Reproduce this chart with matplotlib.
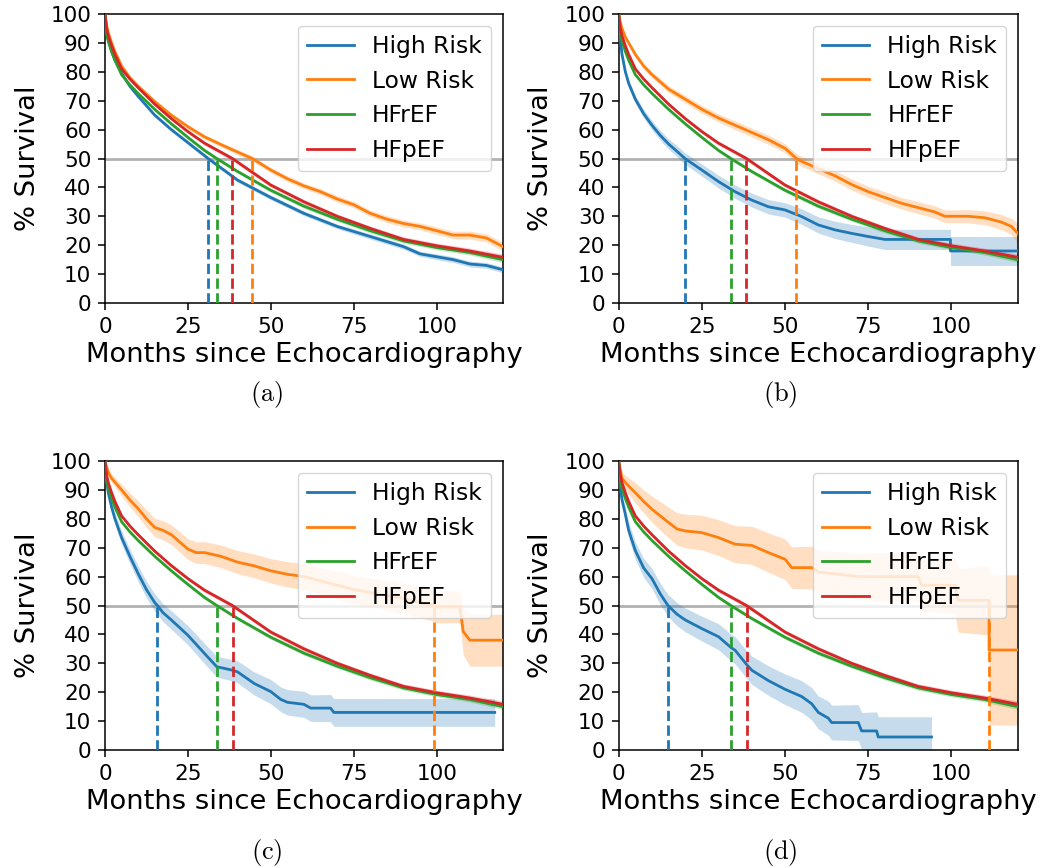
import numpy as np
import matplotlib
matplotlib.use('Agg')
import matplotlib.pyplot as plt

plt.rcParams['font.family'] = 'DejaVu Sans'
plt.rcParams['mathtext.fontset'] = 'cm'

labels = ['High Risk', 'Low Risk', 'HFrEF', 'HFpEF']
colors = ['#1f77b4', '#ff7f0e', '#2ca02c', '#d62728']
captions = ['(a)', '(b)', '(c)', '(d)']
xticks = [0, 25, 50, 75, 100]
yticks = list(range(0, 101, 10))

# ---- reference groups (same in every panel) ----
hfref_t = [0, 0.5, 1, 2, 3, 5, 7.5, 10, 15, 20, 25, 30, 33.7, 40, 50, 60, 70, 80, 90, 100, 110, 120]
hfref_s = [100, 93, 90.5, 87, 84, 79, 75.5, 72.5, 67, 62, 57.3, 52.8, 50, 45.5, 39, 33.5, 29, 25, 21.5, 19.2, 17.5, 15]
hfref_ci = [0, 0.3, 0.3, 0.4, 0.4, 0.5, 0.5, 0.5, 0.5, 0.6, 0.6, 0.6, 0.6, 0.6, 0.7, 0.7, 0.7, 0.8, 0.8, 0.8, 0.9, 1.0]

hfpef_t = [0, 0.5, 1, 2, 3, 5, 7.5, 10, 15, 20, 25, 30, 38.4, 50, 60, 70, 80, 90, 100, 110, 120]
hfpef_s = [100, 95, 92.5, 89, 86, 81, 77.5, 74.5, 68.8, 63.8, 59.3, 55.3, 50, 40.8, 35, 30, 25.8, 22, 19.8, 18, 15.8]
hfpef_ci = [0, 0.3, 0.3, 0.4, 0.4, 0.5, 0.5, 0.5, 0.6, 0.6, 0.6, 0.7, 0.7, 0.7, 0.8, 0.8, 0.8, 0.9, 0.9, 1.0, 1.1]

# ---- panel (a) ----
high_a_t = [0, 0.5, 1, 2, 3, 5, 7.5, 10, 15, 20, 25, 31.1, 40, 50, 60, 70, 80, 90, 95, 100, 105, 110, 115, 120]
high_a_s = [100, 94, 91, 87, 84, 79.5, 75, 71.5, 65, 60, 55.5, 50, 42.5, 36.5, 31, 26.5, 23, 19.5, 17, 16, 15, 13.5, 13, 11.5]
high_a_ci = [0, 0.3, 0.3, 0.4, 0.4, 0.5, 0.5, 0.5, 0.6, 0.6, 0.7, 0.7, 0.7, 0.8, 0.8, 0.8, 0.9, 0.9, 0.9, 1.0, 1.0, 1.0, 1.0, 1.0]
low_a_t = [0, 0.5, 1, 2, 3, 5, 7.5, 10, 15, 20, 25, 30, 35, 40, 44.4, 50, 55, 60, 65, 70, 75, 80, 85, 90, 95, 100, 105, 110, 115, 120]
low_a_s = [100, 96, 93.5, 90, 87, 82, 78, 75, 69.7, 65, 61, 57.5, 54.8, 52.2, 50, 46, 43, 40.5, 38.5, 36, 34, 31, 29, 27.5, 26.5, 25, 23.5, 23.5, 22.5, 19.5]
low_a_ci = [0, 0.3, 0.4, 0.4, 0.5, 0.5, 0.6, 0.6, 0.7, 0.7, 0.8, 0.8, 0.8, 0.9, 0.9, 0.9, 1.0, 1.0, 1.0, 1.1, 1.1, 1.1, 1.2, 1.2, 1.2, 1.3, 1.3, 1.4, 1.4, 1.5]

# ---- panel (b) ----
high_b_t = [0, 0.5, 1, 2, 3, 5, 7.5, 10, 12.5, 15, 17.5, 19.9, 25, 30, 35, 40, 45, 50, 55, 60, 65, 70, 75, 80, 99.7, 99.7, 120]
high_b_s = [100, 91, 86, 80, 76, 70.5, 65.5, 61.5, 58, 55, 52.5, 50, 46, 42, 38.5, 35.6, 33.3, 32.2, 29.9, 27, 25.3, 24.1, 23, 22, 22, 18, 18]
high_b_ci = [0, 0.8, 1.0, 1.2, 1.3, 1.4, 1.5, 1.6, 1.7, 1.8, 1.9, 2.0, 2.1, 2.2, 2.3, 2.4, 2.5, 2.5, 2.7, 2.8, 3.0, 3.1, 3.3, 3.5, 3.5, 5.0, 5.0]
low_b_t = [0, 0.5, 1, 2, 3, 5, 7.5, 10, 15, 20, 25, 30, 35, 40, 45, 50, 53.4, 55, 60, 65, 70, 75, 80, 85, 90, 95, 98, 100, 105, 110, 115, 118, 120]
low_b_s = [100, 97, 95, 92, 90, 86, 82, 79, 74, 70.5, 67, 64, 61.5, 59, 56.5, 53.5, 50, 49, 46.5, 44, 41, 38.5, 36.5, 34.5, 33, 31.5, 30, 30, 30, 29.5, 28, 26.5, 24]
low_b_ci = [0, 0.5, 0.6, 0.7, 0.8, 0.9, 1.0, 1.1, 1.2, 1.3, 1.4, 1.4, 1.5, 1.5, 1.6, 1.6, 1.7, 1.7, 1.8, 1.8, 1.9, 1.9, 2.0, 2.0, 2.1, 2.1, 2.2, 2.2, 2.3, 2.4, 2.6, 2.8, 3.5]

# ---- panel (c) ----
high_c_t = [0, 0.5, 1, 2, 3, 5, 7.5, 10, 12.5, 15, 15.8, 17.5, 20, 25, 30, 33.7, 38.5, 40, 45, 50, 53, 55, 60, 62, 68, 69, 117.5]
high_c_s = [100, 93, 89, 84, 80, 73.5, 67, 61, 55.5, 51, 50, 47.5, 45, 39.7, 33.4, 28.8, 27.6, 27, 23, 20.2, 17.5, 16.5, 15.8, 14.5, 14.5, 13, 13]
high_c_ci = [0, 1.0, 1.5, 1.8, 2.0, 2.3, 2.5, 2.7, 2.9, 3.0, 3.0, 3.1, 3.2, 3.3, 3.5, 3.6, 3.7, 3.8, 4.0, 4.2, 4.3, 4.4, 4.5, 4.6, 4.7, 4.8, 4.8]
low_c_t = [0, 1, 2, 5, 7.5, 10, 12.5, 15, 17.5, 20, 22.5, 25, 27.5, 30, 35, 40, 45, 50, 55, 60, 65, 70, 75, 80, 85, 90, 95, 99.2, 100, 107, 108, 110, 120]
low_c_s = [100, 96, 94, 90, 86.5, 83.5, 80, 77, 76, 74.5, 72, 69.5, 68.3, 68.3, 67, 65, 63.7, 62, 60.8, 60, 58.5, 57, 55.5, 54.5, 53.5, 52.5, 51, 50, 49.5, 49.5, 41, 38, 38]
low_c_ci = [0, 1.2, 1.5, 2.0, 2.4, 2.7, 3.0, 3.2, 3.3, 3.4, 3.5, 3.6, 3.7, 3.8, 3.9, 4.0, 4.1, 4.2, 4.4, 4.5, 4.6, 4.8, 4.9, 5.0, 5.1, 5.2, 5.3, 5.4, 5.5, 5.5, 8.0, 9.0, 9.0]

# ---- panel (d) ----
high_d_t = [0, 0.5, 1, 2, 3, 5, 7.5, 10, 12.5, 14.8, 17.5, 20, 25, 30, 33.7, 35, 38.5, 40, 45, 50, 55, 58, 60, 63, 64, 72, 73, 77.5, 78, 94]
high_d_s = [100, 91, 86.5, 81.5, 76, 69, 63, 59.3, 54, 50, 47, 45, 42, 39.2, 35.5, 34.5, 29.5, 27.6, 24, 21, 18.5, 16, 13, 11, 9.5, 9.5, 6.6, 6.6, 4.5, 4.5]
high_d_ci = [0, 1.5, 2.0, 2.5, 2.8, 3.0, 3.3, 3.5, 3.7, 3.8, 4.0, 4.1, 4.3, 4.5, 4.6, 4.7, 4.8, 4.9, 5.1, 5.3, 5.5, 5.6, 5.7, 5.9, 6.0, 6.2, 6.4, 6.6, 7.0, 7.0]
low_d_t = [0, 1, 2, 5, 7.5, 10, 12.5, 15, 17.5, 20, 25, 30, 35, 40, 45, 50, 52, 58, 60, 72, 90, 91, 101, 102, 111.3, 111.3, 120]
low_d_s = [100, 94, 92.5, 89, 86, 83.3, 81, 78.7, 76.5, 75.8, 75.2, 73.5, 71.2, 70.8, 68.3, 66, 63.1, 63.1, 61.6, 60, 60, 57, 57, 51.8, 51.8, 34.6, 34.6]
low_d_ci = [0, 2.0, 2.5, 3.5, 4.0, 4.5, 5.0, 5.3, 5.6, 5.8, 6.0, 6.2, 6.4, 6.6, 6.8, 7.0, 7.2, 7.4, 7.6, 8.0, 8.5, 9.0, 9.5, 11.0, 12.0, 26.0, 26.0]

# median survival (months)
medians = [
    [31.1, 44.4, 33.7, 38.4],
    [19.9, 53.4, 33.7, 38.4],
    [15.8, 99.2, 33.7, 38.5],
    [14.8, 111.3, 33.7, 38.5],
]

panels = [
    [(high_a_t, high_a_s, high_a_ci), (low_a_t, low_a_s, low_a_ci)],
    [(high_b_t, high_b_s, high_b_ci), (low_b_t, low_b_s, low_b_ci)],
    [(high_c_t, high_c_s, high_c_ci), (low_c_t, low_c_s, low_c_ci)],
    [(high_d_t, high_d_s, high_d_ci), (low_d_t, low_d_s, low_d_ci)],
]
shared = [(hfref_t, hfref_s, hfref_ci), (hfpef_t, hfpef_s, hfpef_ci)]

W, H = 1044, 868
fig = plt.figure(figsize=(W / 100, H / 100), dpi=100)

# axes pixel boxes: left, top, right, bottom
boxes = [(105, 14, 503, 303), (618.7, 14, 1018, 303),
         (105, 461, 503, 750), (618.7, 461, 1018, 750)]
cap_pos = [(267, 395), (780, 395), (267, 852), (780, 852)]

for i, (box, series2) in enumerate(zip(boxes, panels)):
    l, t, r, b = box
    ax = fig.add_axes([l / W, 1 - b / H, (r - l) / W, (b - t) / H])
    ax.axhline(50, color='gray', alpha=0.6, lw=2, zorder=1)
    allseries = series2 + shared
    for j, (tt, ss, cc) in enumerate(allseries):
        tt = np.array(tt, float)
        ss = np.array(ss, float)
        cc = np.array(cc, float)
        ax.fill_between(tt, np.clip(ss - cc, 0, 100), np.clip(ss + cc, 0, 100),
                        color=colors[j], alpha=0.25, lw=0, zorder=2)
    for j, (tt, ss, cc) in enumerate(allseries):
        ax.plot(tt, ss, color=colors[j], lw=2.0, label=labels[j], zorder=3)
    for j, m in enumerate(medians[i]):
        ax.plot([m, m], [0, 50], color=colors[j], ls='--', lw=2.0, zorder=3)
    ax.set_xlim(0, 120)
    ax.set_ylim(0, 100)
    ax.set_xticks(xticks)
    ax.set_yticks(yticks)
    ax.tick_params(labelsize=15.5, length=4.9, width=1.1, pad=4.9)
    for sp in ax.spines.values():
        sp.set_linewidth(1.1)
    ax.set_xlabel('Months since Echocardiography', fontsize=19.7, labelpad=4)
    ax.set_ylabel('% Survival', fontsize=19.7, labelpad=7)
    ax.legend(loc='upper right', fontsize=16.8)
    cx, cy = cap_pos[i]
    fig.text(cx / W, 1 - cy / H, r'$\mathrm{' + captions[i] + '}$',
             ha='center', va='center', fontsize=19)

fig.savefig('out.png', dpi=100)
